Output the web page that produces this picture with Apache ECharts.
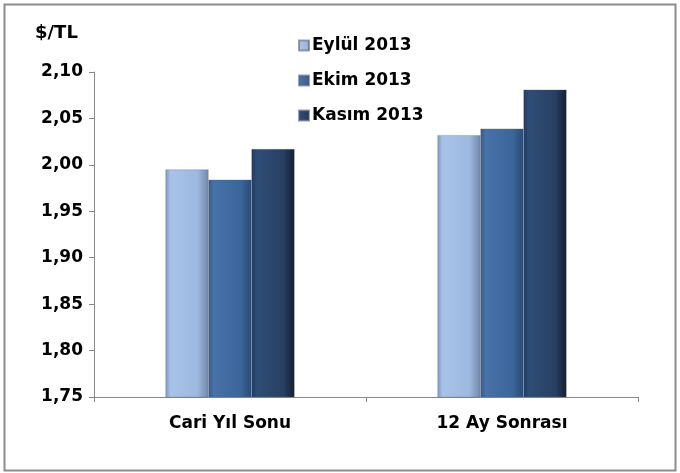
<!DOCTYPE html>
<html>
<head>
<meta charset="utf-8">
<script src="https://cdn.jsdelivr.net/npm/echarts@6/dist/echarts.min.js"></script>
<style>
  html, body { margin: 0; padding: 0; background: #fff; }
  #chart { width: 680px; height: 473px; }
</style>
</head>
<body>
<div id="chart"></div>
<script>
// kategoriler ve seriler
var categories = ['Cari Yıl Sonu', '12 Ay Sonrası'];
var seriesNames = ['Eylül 2013', 'Ekim 2013', 'Kasım 2013'];
var eylul = [1.995, 2.032];
var ekim = [1.984, 2.039];
var kasim = [2.017, 2.081];
var yTicks = [1.75, 1.80, 1.85, 1.90, 1.95, 2.00, 2.05, 2.10];

var font = 'DejaVu Sans';
var chart = echarts.init(document.getElementById('chart'));

var barColor = function (edge, light, mid, dark) {
  return new echarts.graphic.LinearGradient(0, 0, 1, 0, [
    {offset: 0, color: edge},
    {offset: 0.12, color: light},
    {offset: 0.75, color: mid},
    {offset: 1, color: dark}
  ]);
};
var styles = [
  barColor('#7f98bd', '#aac3e8', '#9cb8df', '#6f87aa'),
  barColor('#36598a', '#4672aa', '#3c6699', '#2a4a75'),
  barColor('#203a5c', '#2e4d76', '#283f62', '#111e30')
];
var data = [eylul, ekim, kasim];

var series = seriesNames.map(function (name, i) {
  return {
    name: name,
    type: 'bar',
    barWidth: 43,
    barGap: '0%',
    data: data[i],
    itemStyle: {
      color: styles[i],
      borderColor: 'rgba(90,100,120,0.6)',
      borderWidth: 0.5
    }
  };
});

chart.setOption({
  animation: false,
  textStyle: {fontFamily: font},
  graphic: [{
    type: 'rect',
    left: 2, top: 2,
    shape: {width: 671, height: 466},
    style: {fill: 'none', stroke: '#8c8c8c', lineWidth: 2},
    silent: true
  }, {
    type: 'text',
    left: 35, top: 24,
    style: {text: '$/TL', font: 'bold 18px ' + font, fill: '#000'}
  }],
  legend: {
    orient: 'vertical',
    left: 293, top: 32,
    itemGap: 18,
    itemWidth: 10, itemHeight: 10,
    icon: 'rect',
    textStyle: {fontSize: 17, fontWeight: 'bold', color: '#000', fontFamily: font, padding: [0, 0, 0, -2]},
    data: seriesNames
  },
  grid: {left: 94, right: 42, top: 72, bottom: 76, containLabel: false},
  xAxis: {
    type: 'category',
    data: categories,
    axisLine: {lineStyle: {color: '#888', width: 1}},
    axisTick: {show: true, length: 5, lineStyle: {color: '#888'}},
    axisLabel: {fontSize: 17, fontWeight: 'bold', color: '#000', margin: 18}
  },
  yAxis: {
    type: 'value',
    min: yTicks[0], max: yTicks[yTicks.length - 1], interval: 0.05,
    axisLine: {show: true, lineStyle: {color: '#888', width: 1}},
    axisTick: {show: true, length: 5, lineStyle: {color: '#888'}},
    splitLine: {show: false},
    axisLabel: {
      fontSize: 17, fontWeight: 'bold', color: '#000', margin: 11,
      formatter: function (v) { return v.toFixed(2).replace('.', ','); }
    }
  },
  series: series
});
</script>
</body>
</html>
